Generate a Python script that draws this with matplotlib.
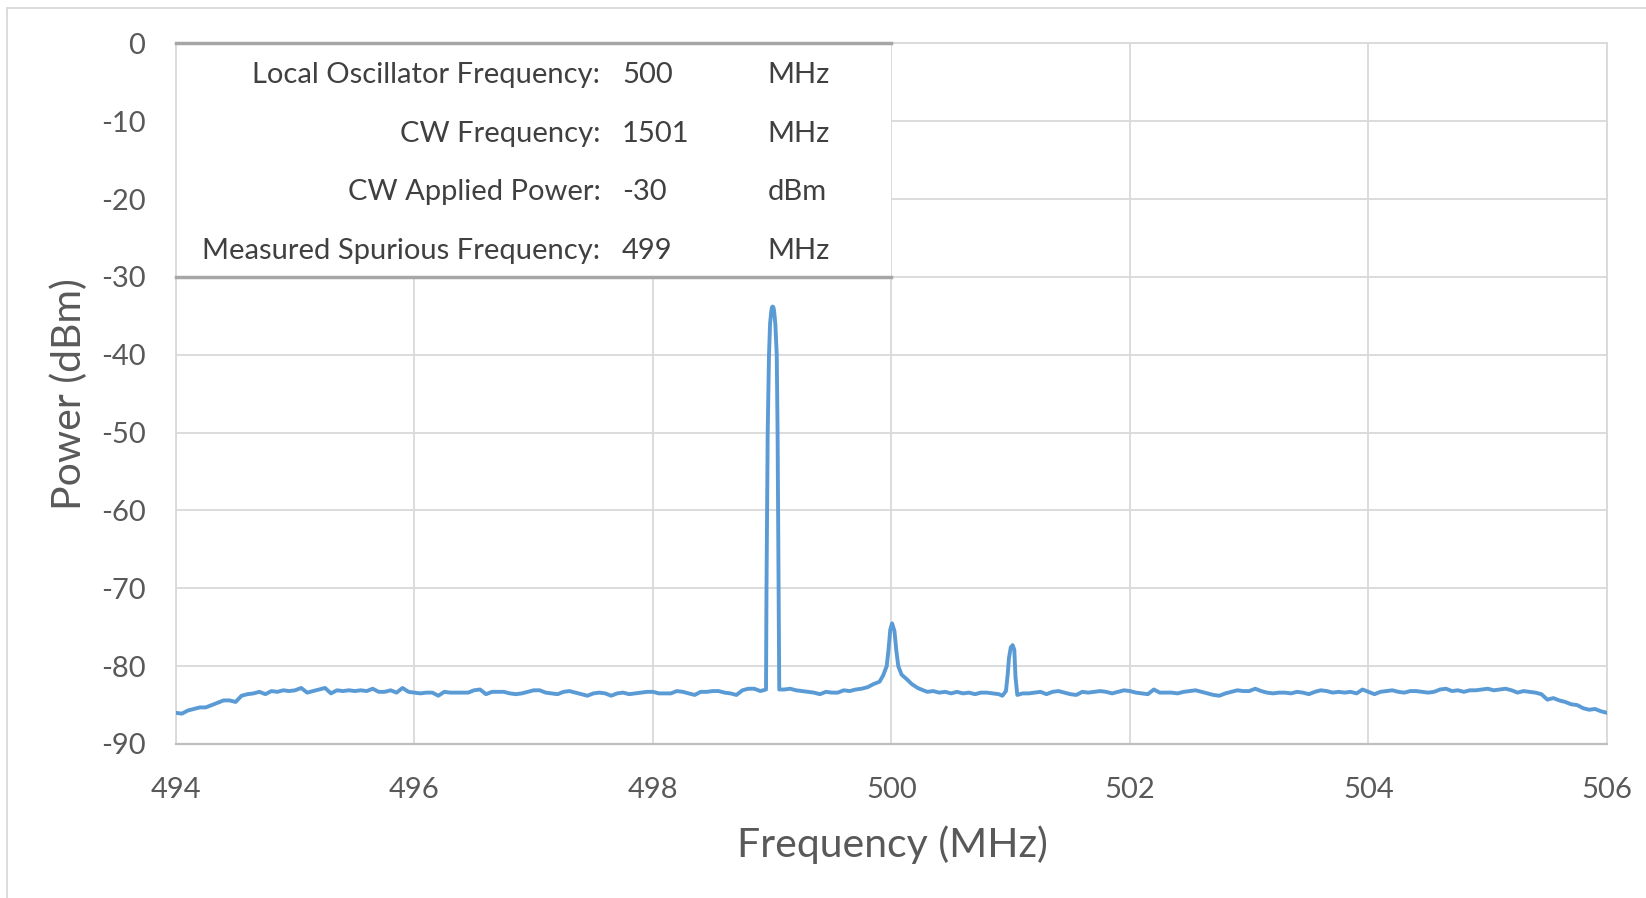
import numpy as np
import matplotlib
matplotlib.use('Agg')
import matplotlib.pyplot as plt
from matplotlib.patches import Rectangle

plt.rcParams['font.family'] = ['Lato', 'DejaVu Sans']

# noise floor sampled every 0.05 MHz from 494.00 to 506.00 (None = inside a peak)
floor_power = [
    -86.0, -86.1, -85.7, -85.5, -85.3, -85.3, -85.0, -84.7, -84.4, -84.4,
    -84.6, -83.8, -83.6, -83.5, -83.3, -83.6, -83.2, -83.3, -83.1, -83.2,
    -83.1, -82.8, -83.4, -83.2, -83.0, -82.8, -83.5, -83.1, -83.2, -83.1,
    -83.2, -83.1, -83.2, -82.9, -83.3, -83.3, -83.1, -83.4, -82.8, -83.3,
    -83.4, -83.5, -83.4, -83.4, -83.8, -83.3, -83.4, -83.4, -83.4, -83.4,
    -83.1, -83.0, -83.6, -83.3, -83.3, -83.3, -83.5, -83.6, -83.5, -83.3,
    -83.1, -83.1, -83.4, -83.5, -83.6, -83.3, -83.2, -83.4, -83.6, -83.8,
    -83.5, -83.4, -83.5, -83.8, -83.5, -83.4, -83.6, -83.5, -83.4, -83.3,
    -83.3, -83.5, -83.5, -83.5, -83.2, -83.3, -83.5, -83.7, -83.3, -83.3,
    -83.2, -83.2, -83.4, -83.5, -83.7, -83.1, -82.9, -82.9, -83.2, None,
    None, None, -83.0, -82.9, -83.1, -83.2, -83.3, -83.4, -83.6, -83.3,
    -83.4, -83.4, -83.1, -83.2, -83.0, -82.9, -82.7, -82.3, -82.0, None,
    None, None, None, None, None, -83.0, -83.3, -83.2, -83.4, -83.3,
    -83.5, -83.3, -83.5, -83.4, -83.6, -83.4, -83.4, -83.5, -83.6, None,
    None, None, -83.5, -83.5, -83.4, -83.3, -83.6, -83.3, -83.2, -83.4,
    -83.6, -83.7, -83.3, -83.4, -83.3, -83.2, -83.3, -83.5, -83.3, -83.1,
    -83.2, -83.4, -83.5, -83.6, -83.0, -83.4, -83.4, -83.4, -83.5, -83.3,
    -83.2, -83.1, -83.3, -83.5, -83.7, -83.8, -83.5, -83.3, -83.1, -83.2,
    -83.2, -82.9, -83.2, -83.4, -83.5, -83.4, -83.4, -83.5, -83.3, -83.4,
    -83.6, -83.3, -83.1, -83.2, -83.4, -83.3, -83.4, -83.3, -83.5, -83.0,
    -83.3, -83.6, -83.3, -83.2, -83.1, -83.3, -83.4, -83.2, -83.2, -83.3,
    -83.4, -83.3, -83.0, -82.9, -83.2, -83.1, -83.3, -83.1, -83.1, -83.0,
    -82.9, -83.1, -83.0, -82.9, -83.1, -83.4, -83.2, -83.3, -83.4, -83.6,
    -84.3, -84.1, -84.4, -84.6, -84.9, -85.0, -85.4, -85.6, -85.5, -85.8,
    -86.0,
]

# peaks at 499, 500 and 501 MHz
peak_freq = [
    498.948, 498.952, 498.962, 498.973, 498.982, 498.992, 498.998, 499.004, 499.010, 499.016,
    499.026, 499.038, 499.045, 499.053, 499.059,
    499.93, 499.96, 499.975, 499.99, 500.005, 500.025, 500.04, 500.057, 500.085, 500.13,
    500.17, 500.22,
    500.93, 500.96, 500.975, 500.985, 501.0, 501.016, 501.03, 501.04, 501.055,
]
peak_power = [
    -83.0, -70.0, -50.0, -40.0, -36.0, -34.4, -33.9, -33.8, -33.9, -34.4,
    -36.0, -40.0, -50.0, -70.0, -83.0,
    -81.2, -80.0, -77.9, -75.3, -74.5, -75.5, -77.9, -80.0, -81.1, -81.7,
    -82.3, -82.8,
    -83.8, -83.2, -81.0, -79.0, -77.6, -77.3, -77.9, -81.4, -83.7,
]

x_ticks = [494, 496, 498, 500, 502, 504, 506]
y_ticks = [0, -10, -20, -30, -40, -50, -60, -70, -80, -90]

table_labels = ['Local Oscillator Frequency:', 'CW Frequency:',
                'CW Applied Power:', 'Measured Spurious Frequency:']
table_values = ['500', '1501', '-30', '499']
table_units = ['MHz', 'MHz', 'dBm', 'MHz']

freq_grid = np.round(np.arange(494.0, 506.001, 0.05), 2)
floor = np.array(floor_power, dtype=float)
keep = ~np.isnan(floor)
freq = np.concatenate([freq_grid[keep], peak_freq])
power = np.concatenate([floor[keep], peak_power])
order = np.argsort(freq)

fig = plt.figure(figsize=(16.46, 8.98), dpi=100)
ax = fig.add_axes([0.1069, 0.1715, 0.8694, 0.7801])

ax.plot(freq[order], power[order], color='#5B9BD5', lw=2.8, solid_joinstyle='round', zorder=4)

ax.set_xlim(494, 506)
ax.set_ylim(-90, 0)
ax.set_xticks(x_ticks)
ax.set_xticklabels([str(t) for t in x_ticks])
ax.set_yticks(y_ticks)
ax.set_yticklabels([str(t) for t in y_ticks])
ax.grid(color='#D9D9D9', lw=1.3)
ax.set_axisbelow(True)
for side in ['top', 'right', 'left']:
    ax.spines[side].set_color('#D9D9D9')
    ax.spines[side].set_linewidth(1.3)
ax.spines['bottom'].set_color('#BFBFBF')
ax.spines['bottom'].set_linewidth(1.6)
ax.tick_params(axis='both', length=0, labelsize=21, labelcolor='#595959')
ax.tick_params(axis='y', pad=22)
ax.tick_params(axis='x', pad=24)

# info table in the top-left corner
ax.add_patch(Rectangle((494, -30), 6, 30, facecolor='white', edgecolor='none', zorder=2))
ax.plot([494, 500], [0, 0], color='#A6A6A6', lw=2.5, zorder=3, clip_on=False)
ax.plot([494, 500], [-30, -30], color='#A6A6A6', lw=2.5, zorder=3, clip_on=False)
row_y = [-4.1, -11.6, -19.1, -26.6]
for y, lab, val, unit in zip(row_y, table_labels, table_values, table_units):
    ax.text(497.56, y, lab, ha='right', va='center', fontsize=21, color='#404040', zorder=5)
    ax.text(497.74, y, val, ha='left', va='center', fontsize=21, color='#404040', zorder=5)
    ax.text(498.96, y, unit, ha='left', va='center', fontsize=21, color='#404040', zorder=5)

fig.text(0.042, 0.5613, 'Power (dBm)', rotation=90, ha='center', va='center',
         fontsize=29.5, color='#595959')
fig.text(0.542, 0.059, 'Frequency (MHz)', ha='center', va='center',
         fontsize=29.5, color='#595959')

fig.add_artist(Rectangle((0.004, -0.01), 1.02, 1.0011, transform=fig.transFigure,
                         fill=False, edgecolor='#D9D9D9', lw=1.3))

fig.savefig('out.png', dpi=100)
